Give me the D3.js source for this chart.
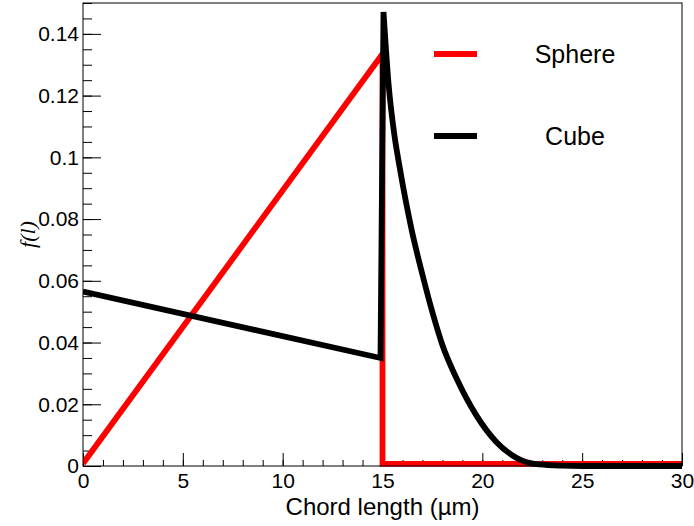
<!DOCTYPE html>
<html>
<head>
<meta charset="utf-8">
<script src="https://cdn.jsdelivr.net/npm/d3@7"></script>
<style>
  body { margin: 0; background: #fff; }
  svg { display: block; font-family: "Liberation Sans", Arial, sans-serif; }
</style>
</head>
<body>
<svg id="chart" width="694" height="526"></svg>
<script>
// values
const sphereX = [0, 15, 15, 30];
const sphereY = [0.0008, 0.1335, 0.0007, 0.0007];

// cube: straight part up to the spike (first 3 points), smooth decay after it
const cubeX = [0, 14.9, 15.05, 15.3, 15.6, 15.84, 16.46, 17.0, 17.5, 18.0, 18.7, 19.7, 20.7, 21.7, 22.85, 24, 25, 30];
const cubeY = [0.0565, 0.035, 0.1471, 0.124, 0.107, 0.0975, 0.0765, 0.062, 0.0498, 0.0392, 0.0285, 0.0164, 0.0078, 0.0027, 0.0005, 0.0001, 0, 0];
const cubeSpike = 2;

const seriesNames = ["Sphere", "Cube"];
const seriesColors = ["#ff0000", "#000000"];

const xTicks = [0, 5, 10, 15, 20, 25, 30];
const xMinor = d3.range(0, 31, 1);
const yTicks = [0, 0.02, 0.04, 0.06, 0.08, 0.1, 0.12, 0.14];
const yMinor = d3.range(0, 0.1501, 0.005);

const svg = d3.select("#chart");
const L = 83, R = 682, T = 3, B = 466;

const x = d3.scaleLinear().domain([0, 30]).range([L, R]);
const y = d3.scaleLinear().domain([0, 0.15]).range([B, T]);

// minor ticks first
svg.append("g").attr("transform", `translate(0,${B})`)
  .call(d3.axisBottom(x).tickValues(xMinor).tickSize(-6).tickFormat(""))
  .call(g => g.select(".domain").remove());
svg.append("g").attr("transform", `translate(${L},0)`)
  .call(d3.axisLeft(y).tickValues(yMinor).tickSize(-9).tickFormat(""))
  .call(g => g.select(".domain").remove());

// major ticks with labels
const fmt = d => d === 0 ? "0" : d3.format("~g")(d);
svg.append("g").attr("transform", `translate(0,${B})`)
  .call(d3.axisBottom(x).tickValues(xTicks).tickSize(-13).tickPadding(7).tickFormat(fmt))
  .call(g => g.select(".domain").remove())
  .call(g => g.selectAll("text").attr("font-size", 21).attr("font-family", "Liberation Sans, Arial, sans-serif").attr("fill", "#000"));
svg.append("g").attr("transform", `translate(${L},0)`)
  .call(d3.axisLeft(y).tickValues(yTicks).tickSize(-18).tickPadding(4).tickFormat(fmt))
  .call(g => g.select(".domain").remove())
  .call(g => g.selectAll("text").attr("font-size", 21).attr("font-family", "Liberation Sans, Arial, sans-serif").attr("fill", "#000"));

svg.selectAll(".tick line").attr("stroke", "#000");

// curves
const straight = d3.line().x(d => x(d[0])).y(d => y(d[1]));
const smooth = d3.line().x(d => x(d[0])).y(d => y(d[1])).curve(d3.curveMonotoneX);

svg.append("clipPath").attr("id", "clip")
  .append("rect").attr("x", L).attr("y", T).attr("width", R - L).attr("height", B - T + 3);

const cubePts = d3.zip(cubeX, cubeY);
const paths = [
  straight(d3.zip(sphereX, sphereY)),
  straight(cubePts.slice(0, cubeSpike + 1)) + smooth(cubePts.slice(cubeSpike)).replace(/^M/, "L")
];
svg.append("g").attr("clip-path", "url(#clip)")
  .selectAll("path")
  .data(paths)
  .join("path")
  .attr("d", d => d)
  .attr("fill", "none")
  .attr("stroke", (d, i) => seriesColors[i])
  .attr("stroke-width", 5.8)
  .attr("stroke-linejoin", "miter")
  .attr("stroke-miterlimit", 10);

// frame
svg.append("rect")
  .attr("x", L).attr("y", T).attr("width", R - L).attr("height", B - T)
  .attr("fill", "none").attr("stroke", "#000").attr("stroke-width", 1);

// axis titles
svg.append("text")
  .attr("x", (L + R) / 2).attr("y", 515)
  .attr("text-anchor", "middle")
  .attr("font-size", 24)
  .text("Chord length (\u00b5m)");

svg.append("text")
  .attr("transform", `translate(35,${(T + B) / 2}) rotate(-90)`)
  .attr("text-anchor", "middle")
  .attr("font-family", "Liberation Serif, Times New Roman, serif")
  .attr("font-style", "italic")
  .attr("font-size", 22)
  .text("f(l)");

// legend
const legend = svg.append("g").selectAll("g")
  .data(seriesNames)
  .join("g")
  .attr("transform", (d, i) => `translate(0,${54 + i * 82})`);
legend.append("line")
  .attr("x1", 434).attr("x2", 477)
  .attr("stroke", (d, i) => seriesColors[i])
  .attr("stroke-width", 6);
legend.append("text")
  .attr("x", 575).attr("y", 9)
  .attr("text-anchor", "middle")
  .attr("font-size", 25)
  .text(d => d);
</script>
</body>
</html>
